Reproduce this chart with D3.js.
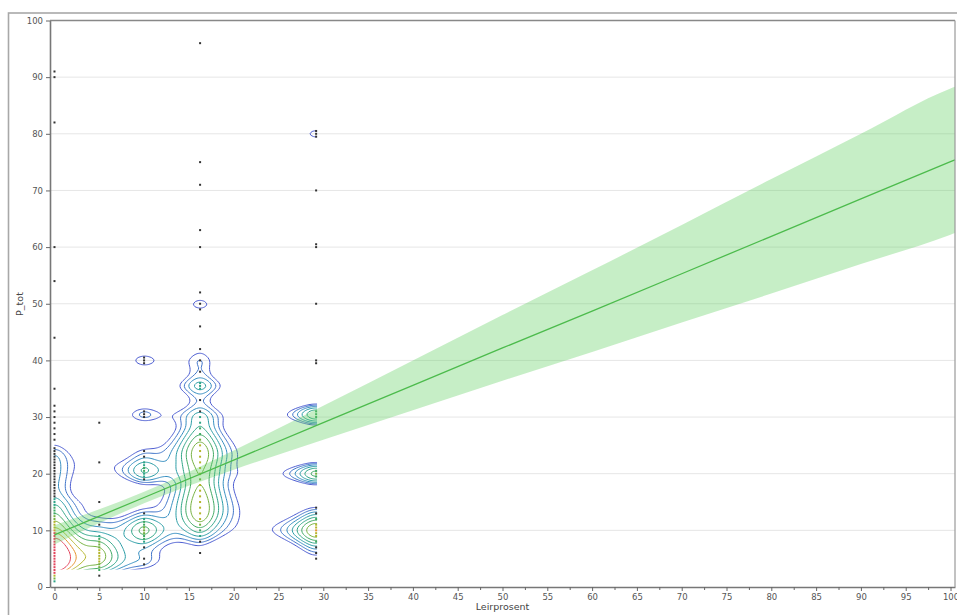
<!DOCTYPE html>
<html>
<head>
<meta charset="utf-8">
<script src="https://cdn.jsdelivr.net/npm/d3@7"></script>
<style>
  body { margin: 0; background: #fff; }
  svg { display: block; }
  text { font-family: "DejaVu Sans", "Liberation Sans", sans-serif; }
</style>
</head>
<body>
<svg id="chart" width="957" height="615"></svg>
<script>
// ---------------- DATA ----------------
const xTickValues = [0,5,10,15,20,25,30,35,40,45,50,55,60,65,70,75,80,85,90,95,100];
const xMinorTicks = [2.5,7.5,12.5,17.5,22.5,27.5,32.5,37.5,42.5,47.5,52.5,57.5,62.5,67.5,72.5,77.5,82.5,87.5,92.5,97.5];
const yTickValues = [0,10,20,30,40,50,60,70,80,90,100];
const xTitle = "Leirprosent";
const yTitle = "P_tot";

// Leirprosent classes (x positions of the point columns)
const columnX = [0, 5, 10, 16.25, 29.2];

// x = 0 column
const col0Y = [91,90,82,60,54,44,35,32,31,30,29,28,27,26,
  24.5,24,23.5,23,22.5,22,21.5,21,20.5,20,19.5,19,18.5,18,17.5,17,
  16.5,16,15.5,15,14.5,14,13.5,13,12.5,12,11.5,11,10.5,10,9.5,9,
  8.5,8,7.5,7,6.5,6,5.5,5,4.5,4,3.5,3,2.5,2,1.5,1];
const col0N = [1,1,1,1,1,1,1,1,1,1,1,1,1,1,
  1,1,1,1,1,1,1,1,1,1,1,1,1,1,1,1,
  1,1,1,2,1,2,2,2,2,2,3,3,3,3,4,5,
  6,6,7,8,9,10,10,10,10,10,9,7,4,2,1,1];

// x = 5 column
const col5Y = [29,22,15,11,9,8.5,8,7.5,7,6.5,6,5.5,5,4.5,4,3.5,3,2];
const col5N = [1,1,1,1,1,1,1,1,2,2,2,2,2,2,2,1,1,1];

// x = 10 column
const col10Y = [40.5,40,39.5,31,30.5,30,24,23,22,21.5,21,20.5,20,19.5,19,13,12,11.5,11,10.5,10,9.5,9,8.5,8,7,5,4];
const col10N = [1,2,1,1,2,1,1,1,1,1,2,2,2,1,1,1,1,1,2,2,3,2,2,1,1,1,1,1];

// x = 16.25 column
const col16Y = [96,75,71,63,60,52,50,49,46,42,40,38,36,35.5,35,33,31,30,29,28,27,26,25,24,23,22,21,20,19,18,17,16,15,14,13,12,11,10,9,8,6];
const col16N = [1,1,1,1,1,1,3,1,1,2,3,3,3,2,3,3,3,3,3,3,4,5,6,7,7,6,5,5,5,5,6,6,7,7,7,6,4,3,2,1,1];

// x = 29.2 column
const col29Y = [80.5,80,79.5,70,60.5,60,50,40,39.5,31,30.5,30,20.5,20,19.5,14,13,12,11,10.5,10,9.5,9,8,7,6,5];
const col29N = [1,2,1,1,1,2,1,1,2,3,5,4,4,5,4,1,2,3,4,4,5,4,4,3,2,1,1];

// Linear fit with confidence band
const fitX  = [0, 10, 20, 30, 40, 50, 60, 70, 80, 90, 100, 100.5];
const fitY  = [9.2, 15.8, 22.4, 29.0, 35.6, 42.2, 48.7, 55.3, 61.9, 68.5, 75.1, 75.4];
const fitLo = [7.5, 14.8, 20.7, 26.0, 31.2, 36.4, 41.5, 46.7, 51.8, 57.0, 62.2, 62.5];
const fitHi = [10.9, 16.8, 24.1, 32.0, 40.0, 48.0, 55.9, 63.9, 72.0, 80.0, 88.0, 88.3];

// contour level colours, lowest level first
const levelColors = ["#4a5bd0","#3f74c8","#338cbf","#2a9ca5","#2ea486","#3fa862","#74b040","#b4b52c","#e5932e","#e2445c"];

// ---------------- LAYOUT ----------------
const svg = d3.select("#chart");
const X0 = 50, X1 = 955, Y0 = 587, Y1 = 20.5;
const x = d3.scaleLinear().domain([-0.5, 100.5]).range([X0, X1]);
const y = d3.scaleLinear().domain([0, 100]).range([Y0, Y1]);

// outer frame
svg.append("rect").attr("x", 8.5).attr("y", 13).attr("width", 1000).attr("height", 700)
  .attr("fill", "none").attr("stroke", "#a8a8a8").attr("stroke-width", 1.6);

// gridlines
svg.append("g").selectAll("line").data(yTickValues.filter(v => v > 0 && v < 100)).join("line")
  .attr("x1", X0).attr("x2", X1).attr("y1", d => y(d)).attr("y2", d => y(d))
  .attr("stroke", "#e6e6e6").attr("stroke-width", 1);

// ---------------- DENSITY CONTOURS ----------------
const pts = [];
const cols = [[col0Y,col0N],[col5Y,col5N],[col10Y,col10N],[col16Y,col16N],[col29Y,col29N]];
cols.forEach((c, ci) => c[0].forEach((v, i) => pts.push({x: columnX[ci], y: v, n: c[1][i]})));

const bx = 1.95, hy = 1.1;           // kernel widths (x: Cauchy, y: Gaussian)
const kernX = d => 1 / (1 + (d / bx) * (d / bx));
const kernY = d => Math.exp(-d * d / (2 * hy * hy));
const gx0 = -1, gdx = 0.12, nx = 262;
const gy0 = 0, gdy = 0.3, ny = 334;
const grid = new Float64Array(nx * ny);
const kx = new Float64Array(nx);
pts.forEach(p => {
  for (let i = 0; i < nx; i++) kx[i] = kernX(gx0 + i * gdx - p.x);
  const jlo = Math.max(0, Math.floor((p.y - 5 * hy - gy0) / gdy));
  const jhi = Math.min(ny - 1, Math.ceil((p.y + 5 * hy - gy0) / gdy));
  for (let j = jlo; j <= jhi; j++) {
    const ky = p.n * kernY(gy0 + j * gdy - p.y);
    const off = j * nx;
    for (let i = 0; i < nx; i++) grid[off + i] += kx[i] * ky;
  }
});
function densAt(px, py) {
  let s = 0;
  pts.forEach(p => { s += p.n * kernX(px - p.x) * kernY(py - p.y); });
  return s;
}
const L1 = 3.4, ratio = 1.28;
const levels = levelColors.map((c, k) => L1 * Math.pow(ratio, k));

const contours = d3.contours().size([nx, ny]).thresholds(levels)(grid);
const proj = d3.geoTransform({
  point: function(px, py) { this.stream.point(x(gx0 + (px - 0.5) * gdx), y(gy0 + (py - 0.5) * gdy)); }
});
const gpath = d3.geoPath(proj);

svg.append("clipPath").attr("id", "cclip").append("rect")
  .attr("x", x(0)).attr("y", Y1).attr("width", x(29.3) - x(0)).attr("height", y(3.1) - Y1);

svg.append("g").attr("clip-path", "url(#cclip)").selectAll("path").data(contours).join("path")
  .attr("d", gpath).attr("fill", "none")
  .attr("stroke", (d, i) => levelColors[i]).attr("stroke-width", 1);

// points coloured by density
const ptG = svg.append("g");
pts.forEach(p => {
  const dv = densAt(p.x, p.y);
  let k = -1; levels.forEach((l, i) => { if (dv >= l) k = i; });
  ptG.append("rect").attr("x", x(p.x) - 1).attr("y", y(p.y) - 1).attr("width", 2).attr("height", 2)
    .attr("fill", k >= 3 ? levelColors[Math.min(9, k + 1)] : "#333");
});

// ---------------- FIT + BAND ----------------
const fitData = fitX.map((v, i) => ({x: v, y: fitY[i], lo: fitLo[i], hi: fitHi[i]}));
svg.append("path").datum(fitData)
  .attr("d", d3.area().x(d => x(d.x)).y0(d => y(d.lo)).y1(d => y(d.hi)).curve(d3.curveMonotoneX))
  .attr("fill", "rgb(92,205,92)").attr("fill-opacity", 0.35);
svg.append("path").datum(fitData)
  .attr("d", d3.line().x(d => x(d.x)).y(d => y(d.y)))
  .attr("fill", "none").attr("stroke", "#4cbb4c").attr("stroke-width", 1.3);

// ---------------- AXES ----------------
svg.append("g").attr("transform", `translate(0,${Y0})`)
  .call(d3.axisBottom(x).tickValues(xTickValues).tickSize(4).tickSizeOuter(0).tickPadding(3));
svg.append("g").attr("transform", `translate(0,${Y0})`)
  .call(d3.axisBottom(x).tickValues(xMinorTicks).tickSize(3).tickSizeOuter(0).tickFormat(""))
  .call(g => g.select(".domain").remove());
svg.append("g").attr("transform", `translate(${X0},0)`)
  .call(d3.axisLeft(y).tickValues(yTickValues).tickSize(4).tickSizeOuter(0).tickPadding(3));
svg.selectAll(".tick line").attr("stroke", "#666");
svg.selectAll(".domain").attr("stroke", "#777").attr("stroke-width", 1.6);
svg.selectAll(".tick text").attr("fill", "#555").style("font-size", "8.5px");

// top and right borders
svg.append("line").attr("x1", X0).attr("x2", X1).attr("y1", Y1).attr("y2", Y1).attr("stroke", "#888").attr("stroke-width", 1.6);
svg.append("line").attr("x1", X1).attr("x2", X1).attr("y1", Y1).attr("y2", Y0).attr("stroke", "#999").attr("stroke-width", 1.2);

// titles
svg.append("text").attr("x", (X0 + X1) / 2).attr("y", 610).attr("text-anchor", "middle")
  .attr("fill", "#444").style("font-size", "9.5px").text(xTitle);
svg.append("text").attr("transform", "translate(23,304) rotate(-90)").attr("text-anchor", "middle")
  .attr("fill", "#444").style("font-size", "9.5px").text(yTitle);
</script>
</body>
</html>
